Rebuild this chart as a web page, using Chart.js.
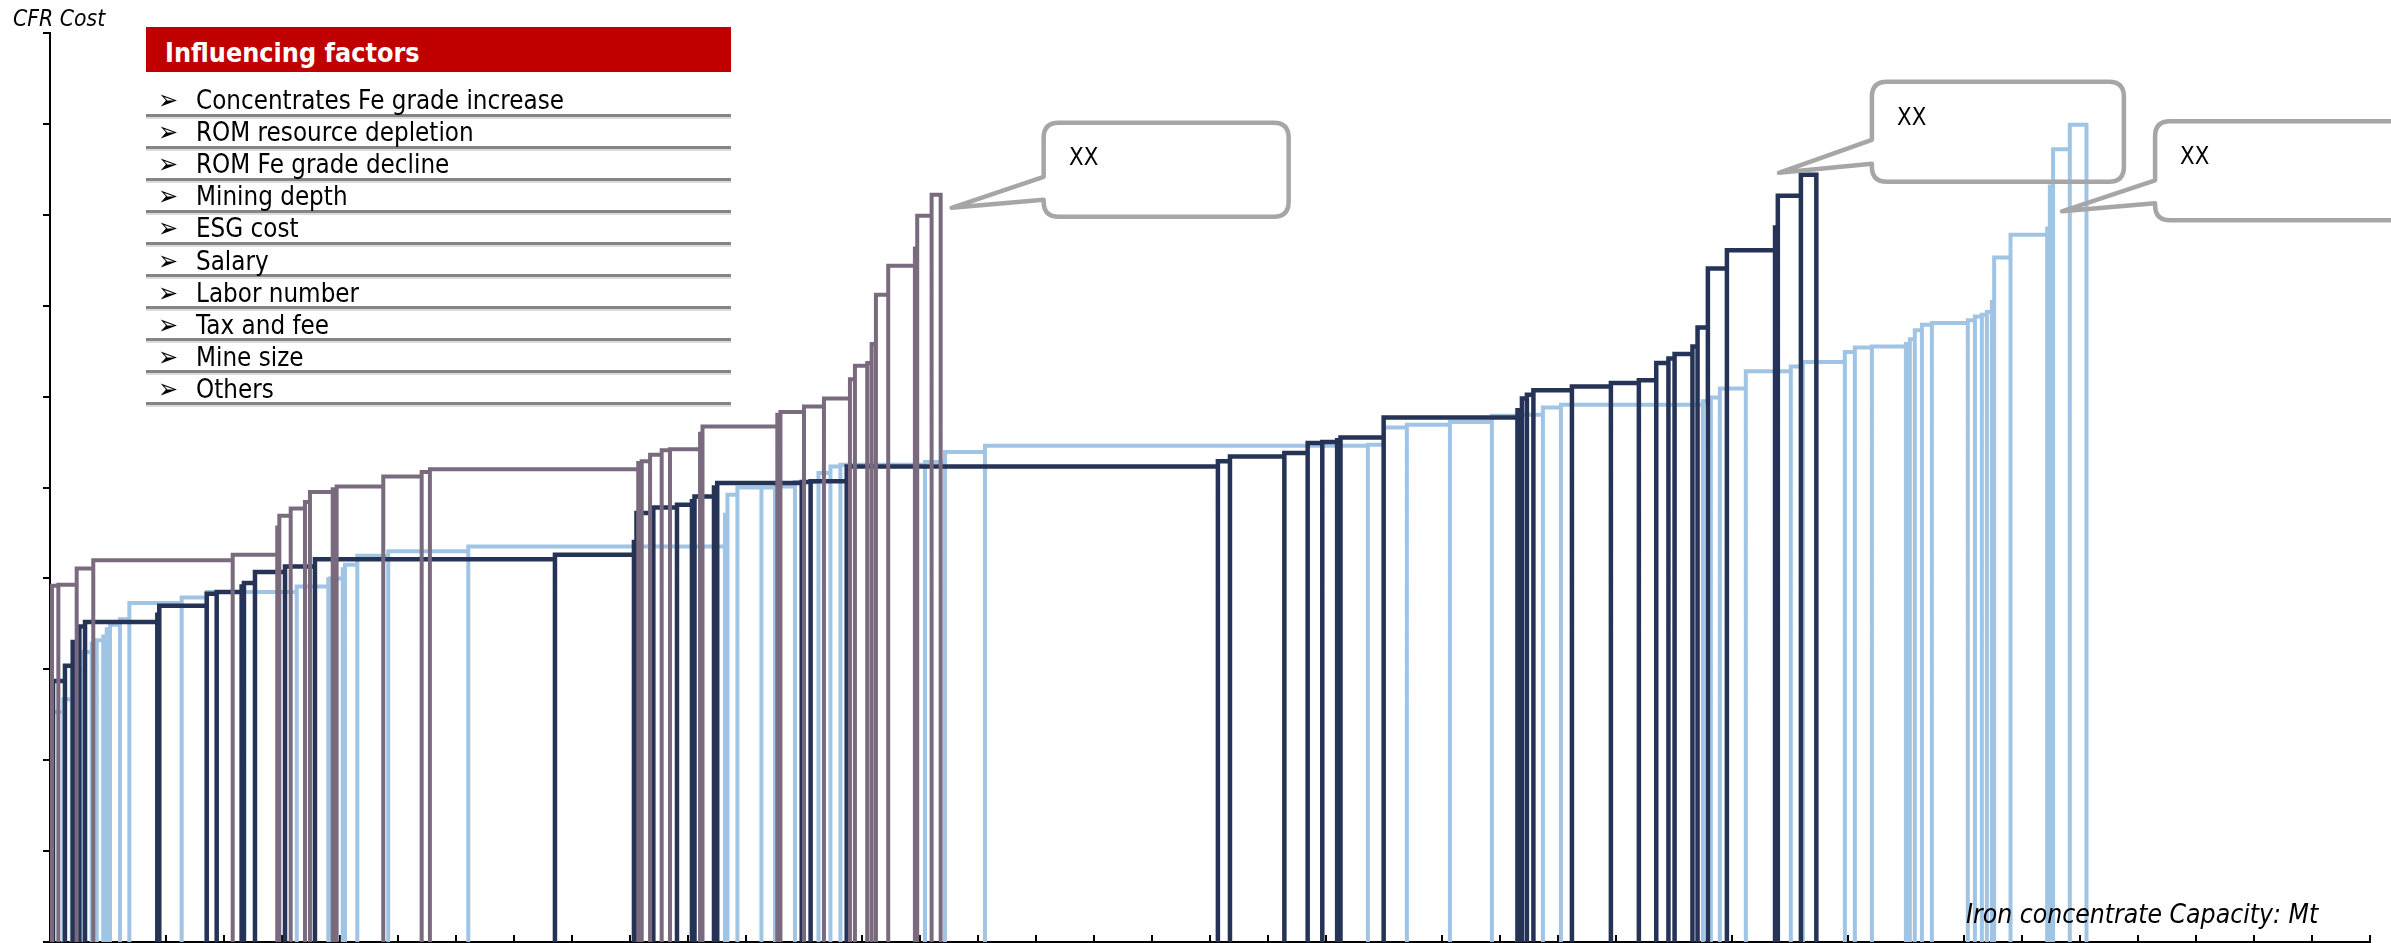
<!DOCTYPE html>
<html>
<head>
<meta charset="utf-8">
<script src="https://cdn.jsdelivr.net/npm/chart.js@4.4.1/dist/chart.umd.min.js"></script>
<style>
  html, body { margin: 0; padding: 0; background: #fff; }
  #wrap { position: relative; width: 2391px; height: 943px; overflow: hidden; }
  #wrap canvas { position: absolute; left: 0; top: 0; }
  .txt {
    position: absolute; white-space: nowrap; line-height: 1;
    font-family: "DejaVu Sans", Verdana, sans-serif; color: #000;
    transform-origin: 0 0; transform: scaleX(0.89);
  }
  .sep { position: absolute; left: 146px; width: 585px; height: 3px; background: #858585; box-shadow: 0 2px 0 #dcdcdc; }
</style>
</head>
<body>
<div id="wrap">
  <canvas id="costCurve" width="2391" height="943"></canvas>
  <div class="txt" id="ylab" style="left:13px; top:7px; font-size:23px; font-style:italic;">CFR Cost</div>
  <div class="txt" id="xlab" style="left:1966px; top:901px; font-size:26px; font-style:italic; transform:scaleX(0.91);">Iron concentrate Capacity: Mt</div>
  <div id="factorsHead" style="position:absolute; left:146px; top:27px; width:585px; height:45px; background:#c00000;"></div>
  <div class="txt" style="left:165px; top:39px; font-size:27px; font-weight:bold; color:#fff;">Influencing factors</div>
  <div id="factors"></div>
  <div class="txt xx" id="xx0" style="font-size:24px;">XX</div>
  <div class="txt xx" id="xx1" style="font-size:24px;">XX</div>
  <div class="txt xx" id="xx2" style="font-size:24px;">XX</div>
</div>
<script>
// capacity (Mt) and CFR cost of each mine, sorted by cost, one group per series
const mauveCapacity = [1.7, 5.5, 15.8, 14.3, 120.2, 38.4, 1.8, 9.8, 12.3, 4.3, 19.6, 3.4, 40.2, 33.1, 7.1,
  179.6, 3.0, 7.2, 10.0, 7.2, 25.9, 2.1, 64.5, 2.7, 20.3, 17.2, 22.4, 4.3, 10.6, 3.8, 3.7, 10.6, 23.0, 2.0, 12.4, 7.8];
const mauveCost = [3.25, 3.92, 3.93, 4.11, 4.20, 4.26, 4.56, 4.69, 4.77, 4.84, 4.95, 4.98, 5.01, 5.12, 5.17,
  5.20, 5.27, 5.29, 5.36, 5.41, 5.42, 5.59, 5.67, 5.80, 5.83, 5.89, 5.98, 6.19, 6.34, 6.37, 6.58, 7.12, 7.44, 7.63, 7.99, 8.22];

const navyCapacity = [2.6, 10.3, 6.7, 5.7, 4.9, 62.3, 1.7, 40.9, 8.6, 21.5, 2.0, 9.5, 25.9, 25.8, 206.9,
  68.1, 2.2, 14.5, 20.4, 12.9, 2.2, 16.8, 2.8, 72.8, 7.7, 31.1, 320.0, 10.4, 46.9, 20.1, 12.6, 12.8, 2.9, 37.2, 115.4,
  3.8, 4.3, 5.6, 33.2, 33.6, 24.1, 15.0, 10.5, 5.3, 15.4, 4.4, 8.9, 16.4, 41.5, 2.4, 19.9, 13.3];
const navyCost = [1.98, 2.87, 3.04, 3.30, 3.47, 3.52, 3.60, 3.70, 3.83, 3.85, 3.91, 3.95, 4.07, 4.13, 4.21,
  4.26, 4.40, 4.72, 4.78, 4.81, 4.85, 4.90, 5.00, 5.05, 5.06, 5.07, 5.23, 5.29, 5.34, 5.38, 5.49, 5.50, 5.52, 5.55, 5.77,
  5.85, 5.98, 6.02, 6.07, 6.11, 6.15, 6.18, 6.37, 6.42, 6.47, 6.55, 6.76, 7.41, 7.61, 7.86, 8.21, 8.44];

const lightCapacity = [1.5, 10.0, 7.2, 10.0, 7.2, 4.4, 5.6, 3.0, 2.8, 8.6, 8.1, 45.1, 21.6, 77.6, 27.2,
  1.5, 10.9, 2.0, 10.6, 26.7, 69.0, 221.3, 2.1, 8.6, 20.7, 11.7, 17.2, 20.3, 10.3, 8.6, 72.9, 17.2, 34.5, 330.1, 13.8,
  19.8, 37.1, 36.2, 21.6, 22.4, 15.5, 122.4, 6.9, 7.7, 22.4, 38.8, 10.4, 36.2, 8.6, 14.7, 29.3, 3.4, 4.3, 6.1, 8.6,
  31.0, 6.1, 6.0, 4.3, 4.3, 2.0, 14.1, 31.6, 2.3, 2.8, 14.4, 14.4];
const lightCost = [2.30, 2.53, 2.67, 3.00, 3.19, 3.28, 3.32, 3.36, 3.44, 3.49, 3.55, 3.73, 3.79, 3.85, 3.91,
  3.99, 4.00, 4.10, 4.15, 4.25, 4.30, 4.35, 4.70, 4.92, 5.00, 5.00, 5.01, 5.06, 5.16, 5.23, 5.25, 5.28, 5.39, 5.46, 5.47,
  5.66, 5.69, 5.72, 5.79, 5.80, 5.88, 5.91, 5.95, 5.99, 6.09, 6.28, 6.33, 6.38, 6.49, 6.54, 6.55, 6.58, 6.63, 6.73, 6.79,
  6.81, 6.84, 6.88, 6.90, 6.93, 7.04, 7.53, 7.78, 7.85, 8.31, 8.72, 8.99];

const factorNames = ['Concentrates Fe grade increase', 'ROM resource depletion', 'ROM Fe grade decline',
  'Mining depth', 'ESG cost', 'Salary', 'Labor number', 'Tax and fee', 'Mine size', 'Others'];
const calloutText = ['XX', 'XX', 'XX'];

const xMax = 2000, xStep = 50;
const yMax = 10, yStep = 1;

// legend box rows
const factorsBox = document.getElementById('factors');
factorNames.forEach(function (name, i) {
    const sep = 115 + 32.1 * i;
    const line = document.createElement('div');
    line.className = 'sep';
    line.style.top = (sep - 1.5) + 'px';
    factorsBox.appendChild(line);
    const arrow = document.createElement('div');
    arrow.className = 'txt';
    arrow.style.cssText = 'left:158px; font-size:27px; top:' + (sep - 6 - 23) + 'px;';
    arrow.textContent = '\u27A2';
    factorsBox.appendChild(arrow);
    const t = document.createElement('div');
    t.className = 'txt';
    t.style.cssText = 'left:196px; font-size:26px; top:' + (sep - 6 - 22) + 'px;';
    t.textContent = name;
    factorsBox.appendChild(t);
});

function cumulative(widths) {
    let s = 0;
    return widths.map(function (w) { s += w; return s; });
}

// each bar as an open rectangle outline: left edge, top, right edge, then a gap
function outline(widths, costs) {
    const pts = [];
    let x = 0;
    widths.forEach(function (w, i) {
        const x1 = x + w;
        pts.push({x: x, y: 0}, {x: x, y: costs[i]}, {x: x1, y: costs[i]}, {x: x1, y: 0}, {x: x1, y: null});
        x = x1;
    });
    return pts;
}

const seriesList = [
    {widths: mauveCapacity, costs: mauveCost, color: '#7a6a7e', width: 4},
    {widths: navyCapacity, costs: navyCost, color: '#253356', width: 4.5},
    {widths: lightCapacity, costs: lightCost, color: '#a0c4e4', width: 4}
];

// speech bubbles, placed relative to the bar they point at
const callouts = [
    {series: 0, bar: -1, edge: 'right', tip: [11, 13], box: [103, -72, 245, 94], neck: [54, 77]},
    {series: 1, bar: -1, edge: 'left', tip: [-22, -2], box: [71, -93, 252, 100], neck: [58, 82]},
    {series: 2, bar: -2, edge: 'left', tip: [9, 62], box: [102, -28, 270, 99], neck: [59, 82]}
];

const innerTicks = {
    id: 'innerTicks',
    beforeDatasetsDraw(chart) {
        const xs = chart.scales.x, ctx = chart.ctx, b = chart.chartArea.bottom;
        ctx.save();
        ctx.strokeStyle = '#000';
        ctx.lineWidth = 2;
        xs.ticks.forEach(function (t) {
            const px = Math.round(xs.getPixelForValue(t.value));
            ctx.beginPath();
            ctx.moveTo(px, b);
            ctx.lineTo(px, b - 7);
            ctx.stroke();
        });
        ctx.restore();
    }
};

const calloutPlugin = {
    id: 'callouts',
    afterDatasetsDraw(chart) {
        const ctx = chart.ctx, xs = chart.scales.x, ys = chart.scales.y;
        callouts.forEach(function (c, k) {
            const s = seriesList[c.series];
            const ends = cumulative(s.widths);
            const i = c.bar < 0 ? s.widths.length + c.bar : c.bar;
            const ax = xs.getPixelForValue(c.edge === 'right' ? ends[i] : ends[i] - s.widths[i]);
            const ay = ys.getPixelForValue(s.costs[i]);
            const tx = ax + c.tip[0], ty = ay + c.tip[1];
            const L = ax + c.box[0], T = ay + c.box[1], R = L + c.box[2], B = T + c.box[3];
            const r = 15;
            ctx.save();
            ctx.beginPath();
            ctx.moveTo(L + r, T);
            ctx.lineTo(R - r, T);
            ctx.quadraticCurveTo(R, T, R, T + r);
            ctx.lineTo(R, B - r);
            ctx.quadraticCurveTo(R, B, R - r, B);
            ctx.lineTo(L + r, B);
            ctx.quadraticCurveTo(L, B, L, B - r);
            ctx.lineTo(L, T + c.neck[1]);
            ctx.lineTo(tx, ty);
            ctx.lineTo(L, T + c.neck[0]);
            ctx.lineTo(L, T + r);
            ctx.quadraticCurveTo(L, T, L + r, T);
            ctx.closePath();
            ctx.lineWidth = 4.5;
            ctx.strokeStyle = '#a6a6a6';
            ctx.lineJoin = 'round';
            ctx.stroke();
            ctx.restore();
            const el = document.getElementById('xx' + k);
            el.textContent = calloutText[k];
            el.style.left = (L + 25) + 'px';
            el.style.top = (T + 43 - 0.846 * 24) + 'px';
        });
    }
};

new Chart(document.getElementById('costCurve'), {
    type: 'scatter',
    data: {
        datasets: seriesList.map(function (s) {
            return {
                data: outline(s.widths, s.costs),
                showLine: true,
                spanGaps: false,
                borderColor: s.color,
                backgroundColor: s.color,
                borderWidth: s.width,
                pointRadius: 0,
                pointHoverRadius: 0,
                fill: false,
                tension: 0
            };
        })
    },
    options: {
        responsive: false,
        animation: false,
        devicePixelRatio: 1,
        layout: {autoPadding: false, padding: {left: 43, right: 21, top: 33, bottom: 1}},
        plugins: {legend: {display: false}, tooltip: {enabled: false}},
        scales: {
            x: {
                type: 'linear', min: 0, max: xMax,
                ticks: {display: false, stepSize: xStep},
                grid: {display: false, drawTicks: false},
                border: {display: true, color: '#000', width: 2}
            },
            y: {
                type: 'linear', min: 0, max: yMax,
                ticks: {display: false, stepSize: yStep},
                grid: {display: true, drawOnChartArea: false, drawTicks: true, tickLength: 7, color: '#000', lineWidth: 2},
                border: {display: true, color: '#000', width: 2}
            }
        }
    },
    plugins: [innerTicks, calloutPlugin]
});
</script>
</body>
</html>
